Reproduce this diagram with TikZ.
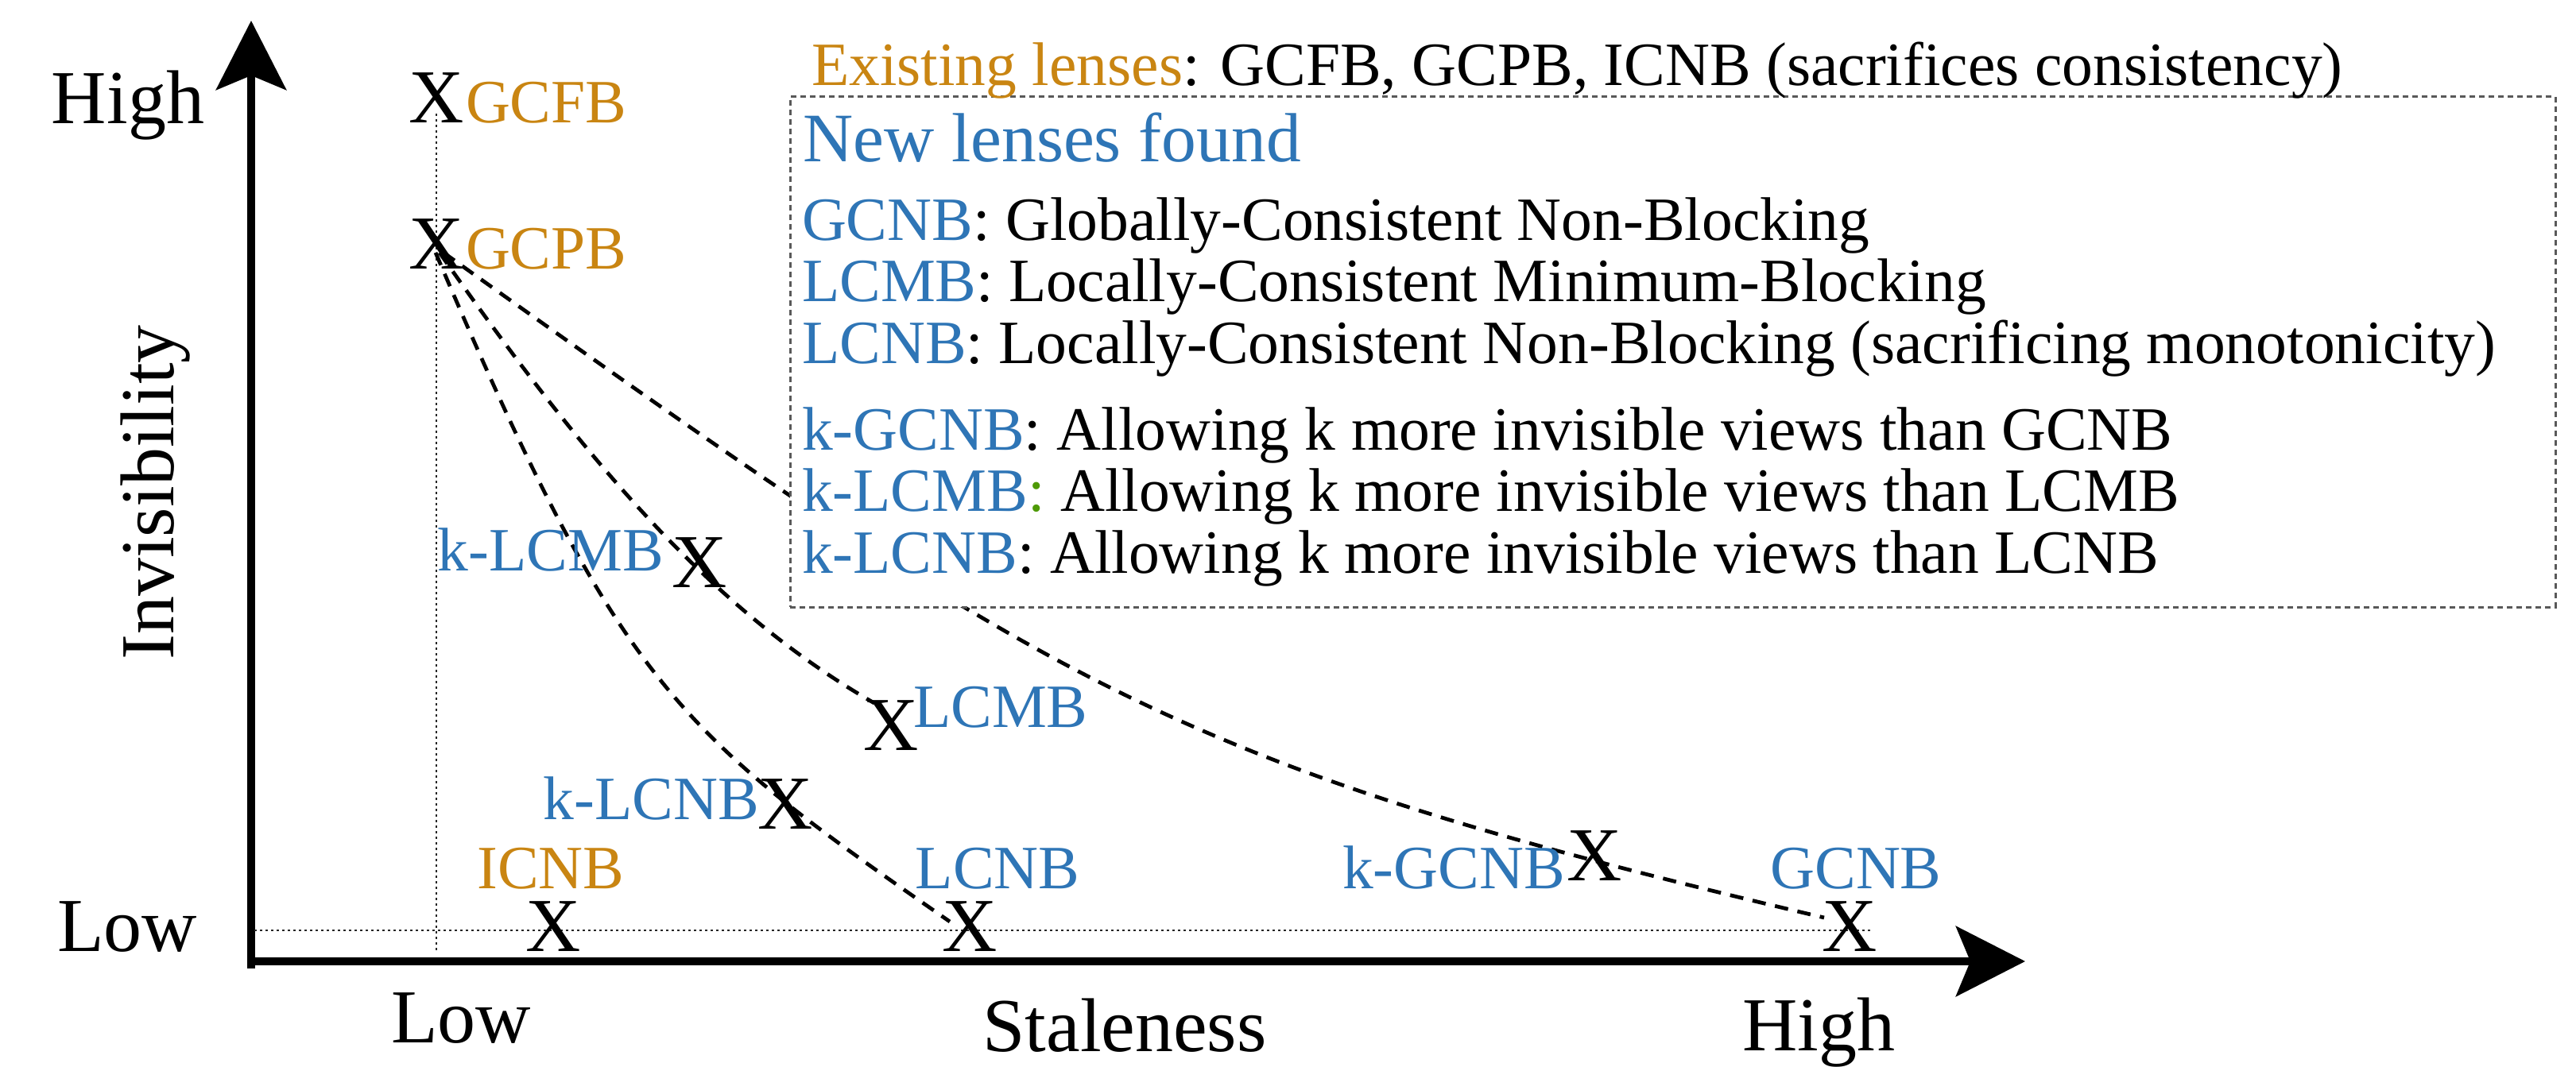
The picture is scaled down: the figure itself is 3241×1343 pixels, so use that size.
\documentclass[tikz,border=0pt]{standalone}
\usepackage{fontspec}
\setmainfont{Liberation Serif}
\usetikzlibrary{arrows.meta}
\definecolor{lensorange}{RGB}{201,133,18}
\definecolor{lensblue}{RGB}{46,117,182}
\definecolor{lensgreen}{RGB}{78,154,6}
\begin{document}
\begin{tikzpicture}[x=0.2pt,y=-0.2pt,
  big/.style={font=\fontsize{19.2pt}{23pt}\selectfont, inner sep=0pt, outer sep=0pt},
  small/.style={font=\fontsize{15.5pt}{18pt}\selectfont, inner sep=0pt, outer sep=0pt},
  xmark/.style={big, anchor=base},
  axisline/.style={line width=2pt, line cap=butt, -{Stealth[length=17.4pt,width=17.6pt,inset=3.6pt]}},
  guide/.style={line width=0.5pt, black!85, dash pattern=on 0.6pt off 0.8pt},
  trend/.style={line width=0.95pt, dash pattern=on 3.4pt off 2.4pt},
  legendbox/.style={draw=black!65, line width=0.6pt, dash pattern=on 1.4pt off 1pt, fill=white, inner sep=0pt, outer sep=0pt},
  boxtext/.style={small, anchor=base west},
]
\useasboundingbox (0,0) rectangle (3241,1343);

% axes
\coordinate (yo) at (316,1219);
\coordinate (ytip) at (316,26);
\coordinate (xo) at (316,1210);
\coordinate (xtip) at (2548,1210);
\draw[axisline] (yo) -- (ytip);
\draw[axisline] (xo) -- (xtip);

% axis labels
\node[big, anchor=base] (yhigh) at (161,156) {High};
\node[big, anchor=base] (ylow) at (160,1197) {Low};
\node[big, rotate=90] (inv) at (196,620) {Invisibility};
\node[big, anchor=base] (xlow) at (580,1312) {Low};
\node[big, anchor=base] (stale) at (1415,1323) {Staleness};
\node[big, anchor=base] (xhigh) at (2288,1322) {High};

% guide lines
\coordinate (gv1) at (549,143);
\coordinate (gv2) at (549,1200);
\coordinate (gh1) at (320,1171);
\coordinate (gh2) at (2353,1171);
\draw[guide] (gv1) -- (gv2);
\draw[guide] (gh1) -- (gh2);

% trend curves
\coordinate (c1s) at (548,318);
\coordinate (c1e) at (1195,1160);
\coordinate (c2s) at (553,318);
\coordinate (c2e) at (1100,885);
\coordinate (c3s) at (558,318);
\coordinate (c3e) at (2295,1155);
\draw[trend] (c1s) .. controls (782,867) and (851,921) .. (c1e);
\draw[trend] (c2s) .. controls (743,589) and (900,770) .. (c2e);
\draw[trend] (c3s) .. controls (1330,869) and (1468,960) .. (c3e);

% legend box
\node[legendbox, anchor=north west, minimum width=444.2pt, minimum height=128.4pt] (box) at (994,122) {};

% X marks
\node[xmark] (xgcfb) at (549,155) {X};
\node[xmark] (xgcpb) at (549,339) {X};
\node[xmark] (xklcmb) at (880,740) {X};
\node[xmark] (xlcmb) at (1121,945) {X};
\node[xmark] (xklcnb) at (988,1043) {X};
\node[xmark] (xicnb) at (696,1197) {X};
\node[xmark] (xlcnb) at (1220,1197) {X};
\node[xmark] (xkgcnb) at (2006,1108) {X};
\node[xmark] (xgcnb) at (2327,1197) {X};

% point labels
\node[small, anchor=base west, text=lensorange] (lgcfb) at (586,155) {GCFB};
\node[small, anchor=base west, text=lensorange] (lgcpb) at (586,339) {GCPB};
\node[small, anchor=base east, text=lensblue] (lklcmb) at (835,719) {k-LCMB};
\node[small, anchor=base west, text=lensblue] (llcmb) at (1149,915) {LCMB};
\node[small, anchor=base east, text=lensblue] (lklcnb) at (955,1031) {k-LCNB};
\node[small, anchor=base, text=lensorange] (licnb) at (693,1119) {ICNB};
\node[small, anchor=base, text=lensblue] (llcnb) at (1255,1119) {LCNB};
\node[small, anchor=base east, text=lensblue] (lkgcnb) at (1969,1118) {k-GCNB};
\node[small, anchor=base, text=lensblue] (lgcnb) at (2335,1118) {GCNB};

% legend texts
\node[boxtext] (existing) at (1021,108) {{\color{lensorange}Existing lenses}: GCFB, GCPB, ICNB (sacrifices consistency)};
\node[boxtext, font=\fontsize{17.5pt}{21pt}\selectfont, text=lensblue] (newfound) at (1010,204) {New lenses found};
\node[boxtext] (t1) at (1009,303) {{\color{lensblue}GCNB}: Globally-Consistent Non-Blocking};
\node[boxtext] (t2) at (1009,380) {{\color{lensblue}LCMB}: Locally-Consistent Minimum-Blocking};
\node[boxtext] (t3) at (1009,458) {{\color{lensblue}LCNB}: Locally-Consistent Non-Blocking (sacrificing monotonicity)};
\node[boxtext] (t4) at (1009,567) {{\color{lensblue}k-GCNB}: Allowing k more invisible views than GCNB};
\node[boxtext] (t5) at (1009,644) {{\color{lensblue}k-LCMB}{\color{lensgreen}:} Allowing k more invisible views than LCMB};
\node[boxtext] (t6) at (1009,722) {{\color{lensblue}k-LCNB}: Allowing k more invisible views than LCNB};
\end{tikzpicture}
\end{document}
